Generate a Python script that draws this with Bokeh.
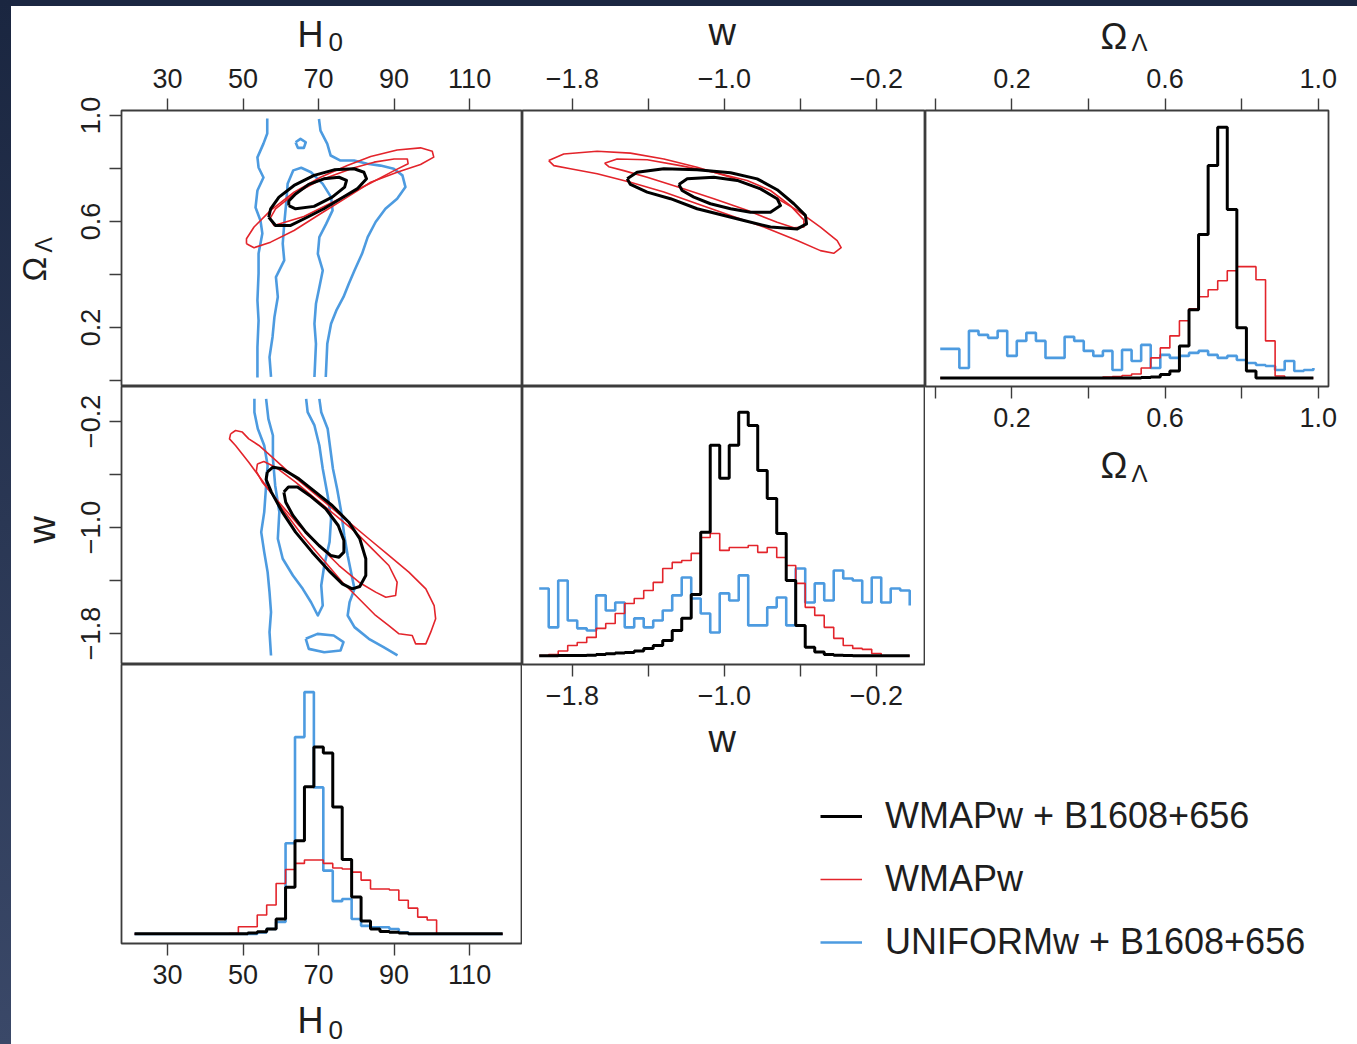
import numpy as np
from bokeh.plotting import figure
from bokeh.layouts import row, column
from bokeh.models import FixedTicker, LinearAxis, Range1d, Legend, LegendItem, Div
from bokeh.core.properties import value
from bokeh.embed import file_html
from bokeh.resources import INLINE

# ---------------------------------------------------------------- data
SERIES = ["WMAPw + B1608+656", "WMAPw", "UNIFORMw + B1608+656"]

H0_TICKS = [30, 50, 70, 90, 110]
W_TICKS = [-1.8, -1.0, -0.2]
W_MINOR = [-1.4, -0.6]
OL_TICKS = [0.2, 0.6, 1.0]
OL_MINOR = [0.0, 0.4, 0.8]

# histogram bin positions
H0_BINS = [21.25 + 2.5 * i for i in range(40)]
W_BINS = [-1.975 + 0.05 * i for i in range(40)]
OL_BINS = [0.0125 + 0.025 * i for i in range(40)]

# relative frequencies (arbitrary units, tallest curve of each panel = 100)
h0_black = [0.1] * 12 + [0.4, 1.0, 2.1, 6.2, 19.3, 38.6, 60.9, 77.3, 74.8, 52.5, 30.8, 15.3,
                         5.4, 2.1, 1.1, 0.7, 0.4] + [0.1] * 11
h0_red = [0] * 10 + [0.2, 3.0, 3.0, 7.9, 12.0, 20.9, 26.7, 29.2, 30.6, 30.6, 29.2, 27.3, 26.9,
                     25.6, 22.3, 18.6, 18.6, 18.2, 14.0, 10.7, 7.0, 5.8] + [0] * 8
h0_blue = [0] * 13 + [0.7, 2.1, 5.0, 37.5, 81.4, 100, 60.6, 26.2, 13.6, 14.5, 6.2, 3.4, 2.8,
                      2.8, 2.1, 0.7] + [0] * 11

w_black = [0.3, 0.3, 0.4, 0.4, 0.4, 0.5, 0.8, 1.1, 1.4, 1.6,
           2.2, 3.3, 4.5, 6.5, 10.6, 15.6, 25.4, 50.8, 86.4, 72.9,
           86.4, 100, 94.5, 76.1, 64.7, 50.3, 31.1, 12.7, 3.8, 1.8,
           0.8, 0.5, 0.4, 0.3, 0.3, 0.3, 0.3, 0.3, 0.3, 0.3]
w_red = [0.4, 0.8, 2.2, 4.5, 5.7, 7.8, 11.5, 13.5, 17.6, 21.7,
         23.7, 27.0, 30.3, 36.0, 38.5, 39.3, 42.2, 48.7, 50.3, 43.4,
         44.6, 44.6, 45.4, 42.6, 44.6, 40.5, 37.2, 29.9, 20.1, 16.8,
         11.9, 7.4, 4.5, 3.3, 2.9, 1.2, 0.3, 0.3, 0.3, 0.3]
w_blue = [27.8, 11.9, 31.1, 14.7, 11.5, 10.6, 25.0, 18.8, 22.1, 11.9,
          15.6, 11.9, 14.7, 18.8, 25.0, 32.3, 23.7, 17.6, 9.8, 25.8,
          22.9, 33.2, 12.7, 12.7, 20.1, 24.1, 12.7, 36.0, 22.1, 29.9,
          22.9, 35.2, 31.9, 31.1, 22.1, 32.3, 22.1, 27.8, 27.0, 20.9]

ol_black = [0] * 21 + [0.2, 0.4, 1.4, 2.8, 12.8, 27.2, 57.2, 84.8, 100, 67.2, 20, 2.8] + [0] * 7
ol_red = [0] * 17 + [0.4, 0.6, 1.0, 1.6, 4.0, 8.0, 12.0, 16.8, 22.8, 27.6, 32.4, 35.2, 38.8,
                     42.8, 44.4, 44.4, 39.2, 14.8, 0.8] + [0] * 4
ol_blue = [11.6, 11.6, 4.0, 18.8, 17.2, 16.0, 18.8, 8.8, 14.8, 18.0,
           14.8, 8.0, 8.0, 16.4, 14.8, 10.8, 8.8, 10.8, 3.2, 11.2,
           6.8, 13.2, 4.0, 9.2, 8.0, 8.8, 10.0, 10.8, 9.2, 8.0,
           8.8, 7.2, 6.0, 5.2, 4.8, 3.2, 6.8, 2.8, 3.2, 4.0]

# ---- contours: H0 (x) vs Omega_Lambda (y)
hl_black_out_h = [56.8, 58.6, 62.6, 67.0, 71.4, 75.8, 80.2, 82.7, 82.0, 79.4, 74.1, 68.8, 63.5, 59.5, 57.3, 56.8]
hl_black_out_o = [0.616, 0.585, 0.585, 0.616, 0.648, 0.686, 0.723, 0.761, 0.786, 0.799, 0.795, 0.774, 0.736, 0.692, 0.648, 0.616]
hl_black_in_h = [62.1, 63.9, 68.8, 73.6, 76.9, 77.4, 75.4, 71.4, 67.4, 63.9, 62.1, 62.1]
hl_black_in_o = [0.660, 0.648, 0.657, 0.692, 0.730, 0.755, 0.767, 0.761, 0.740, 0.704, 0.677, 0.660]
hl_red_out_h = [50.9, 52.9, 57.3, 63.5, 70.5, 77.6, 83.8, 90.8, 97.0, 100.5, 100.1, 97.0, 90.8, 83.8, 77.6, 70.5, 63.5, 57.3, 52.9, 50.9, 50.9]
hl_red_out_o = [0.516, 0.501, 0.522, 0.566, 0.629, 0.692, 0.748, 0.786, 0.815, 0.843, 0.865, 0.878, 0.870, 0.845, 0.811, 0.767, 0.711, 0.642, 0.579, 0.535, 0.516]
hl_red_in_h = [57.1, 58.2, 66.1, 75.0, 83.8, 90.0, 93.7, 93.5, 90.0, 84.7, 79.4, 70.5, 63.5, 58.6, 57.1]
hl_red_in_o = [0.610, 0.585, 0.619, 0.682, 0.745, 0.792, 0.818, 0.836, 0.836, 0.824, 0.803, 0.757, 0.704, 0.648, 0.610]
hl_blue_a_h = [56.4, 56.4, 55.4, 53.8, 54.1, 55.4, 53.8, 53.3, 54.6, 55.1, 54.1, 54.1, 53.8, 54.1, 53.8, 53.8]
hl_blue_a_o = [0.989, 0.932, 0.894, 0.842, 0.804, 0.766, 0.717, 0.653, 0.604, 0.555, 0.479, 0.404, 0.302, 0.226, 0.125, 0.011]
hl_blue_b_h = [57.4, 57.0, 57.8, 58.3, 59.2, 58.7, 60.9, 60.5, 60.9, 61.4, 61.8, 63.3, 65.4, 68.0, 71.1, 73.3, 73.7, 72.0, 70.2, 69.8, 71.1, 70.2, 69.3, 68.9, 69.3, 68.9]
hl_blue_b_o = [0.013, 0.088, 0.164, 0.239, 0.315, 0.390, 0.453, 0.516, 0.591, 0.667, 0.742, 0.793, 0.803, 0.786, 0.742, 0.692, 0.642, 0.591, 0.541, 0.478, 0.415, 0.352, 0.289, 0.214, 0.138, 0.013]
hl_blue_c_h = [70.1, 70.5, 72.3, 73.2, 75.8, 79.4, 82.9, 86.4, 89.9, 92.2, 93.0, 90.8, 87.7, 85.1, 83.0, 81.5, 79.5, 78.0, 76.6, 74.7, 73.3, 72.3, 71.9]
hl_blue_c_o = [0.987, 0.943, 0.893, 0.849, 0.830, 0.830, 0.818, 0.811, 0.799, 0.774, 0.730, 0.686, 0.648, 0.598, 0.541, 0.478, 0.415, 0.365, 0.315, 0.264, 0.214, 0.138, 0.013]
hl_blue_d_h = [63.9, 65.2, 66.6, 66.1, 64.5, 63.9]
hl_blue_d_o = [0.899, 0.912, 0.899, 0.878, 0.878, 0.899]

# ---- contours: w (x) vs Omega_Lambda (y)
wl_red_out_w = [-1.925, -1.846, -1.670, -1.495, -1.319, -1.144, -0.968, -0.793, -0.617, -0.495, -0.407, -0.386, -0.425, -0.495, -0.617, -0.793, -0.968, -1.144, -1.319, -1.495, -1.670, -1.811, -1.898, -1.925]
wl_red_out_o = [0.830, 0.855, 0.865, 0.858, 0.836, 0.805, 0.767, 0.717, 0.642, 0.579, 0.528, 0.501, 0.480, 0.490, 0.528, 0.579, 0.623, 0.667, 0.711, 0.748, 0.780, 0.799, 0.811, 0.830]
wl_red_in_w = [-1.631, -1.565, -1.407, -1.232, -1.056, -0.881, -0.758, -0.653, -0.582, -0.582, -0.635, -0.723, -0.881, -1.056, -1.232, -1.407, -1.530, -1.609, -1.631]
wl_red_in_o = [0.820, 0.836, 0.833, 0.811, 0.786, 0.755, 0.717, 0.660, 0.606, 0.579, 0.576, 0.597, 0.642, 0.686, 0.727, 0.767, 0.792, 0.807, 0.820]
wl_black_out_w = [-1.512, -1.460, -1.319, -1.144, -0.968, -0.828, -0.723, -0.635, -0.574, -0.568, -0.617, -0.758, -0.898, -1.039, -1.144, -1.284, -1.407, -1.495, -1.512]
wl_black_out_o = [0.761, 0.786, 0.799, 0.795, 0.784, 0.761, 0.720, 0.667, 0.623, 0.591, 0.572, 0.579, 0.604, 0.629, 0.648, 0.686, 0.711, 0.740, 0.761]
wl_black_in_w = [-1.240, -1.196, -1.056, -0.933, -0.810, -0.723, -0.705, -0.758, -0.863, -0.968, -1.074, -1.161, -1.223, -1.240]
wl_black_in_o = [0.740, 0.761, 0.767, 0.755, 0.723, 0.686, 0.660, 0.635, 0.635, 0.648, 0.667, 0.692, 0.717, 0.740]

# ---- contours: H0 (x) vs w (y)
hw_red_out_h = [46.7, 48.0, 49.8, 51.5, 54.2, 57.7, 62.1, 67.4, 72.7, 78.0, 83.3, 88.6, 93.9, 98.4, 100.6, 101.0, 99.7, 98.4, 95.7, 94.8, 91.3, 88.6, 85.1, 80.7, 76.3, 71.0, 65.7, 60.4, 56.0, 51.5, 48.0, 46.4, 46.7]
hw_red_out_w = [-0.293, -0.268, -0.280, -0.331, -0.381, -0.469, -0.582, -0.708, -0.834, -0.960, -1.085, -1.211, -1.337, -1.463, -1.589, -1.689, -1.790, -1.878, -1.878, -1.815, -1.802, -1.740, -1.664, -1.538, -1.413, -1.236, -1.060, -0.859, -0.683, -0.507, -0.381, -0.331, -0.293]
hw_red_in_h = [53.8, 55.5, 58.6, 63.9, 69.2, 74.5, 79.8, 84.2, 88.6, 90.8, 90.4, 87.8, 85.1, 80.7, 75.4, 70.1, 64.8, 59.5, 55.1, 53.5, 53.8]
hw_red_in_w = [-0.520, -0.502, -0.545, -0.658, -0.784, -0.909, -1.035, -1.161, -1.287, -1.413, -1.513, -1.526, -1.488, -1.413, -1.287, -1.136, -0.985, -0.809, -0.658, -0.577, -0.520]
hw_black_out_h = [56.4, 57.9, 60.4, 64.8, 69.2, 73.6, 78.0, 80.9, 82.5, 82.5, 80.9, 78.9, 76.3, 72.7, 68.3, 63.9, 60.4, 57.5, 56.1, 56.4]
hw_black_out_w = [-0.582, -0.545, -0.557, -0.633, -0.733, -0.834, -0.960, -1.085, -1.236, -1.362, -1.445, -1.463, -1.425, -1.325, -1.186, -1.035, -0.884, -0.733, -0.638, -0.582]
hw_black_in_h = [60.8, 62.0, 64.4, 67.6, 71.9, 75.2, 76.7, 76.7, 75.4, 73.2, 70.1, 66.6, 63.2, 61.3, 60.8]
hw_black_in_w = [-0.733, -0.695, -0.695, -0.758, -0.859, -0.985, -1.098, -1.186, -1.224, -1.211, -1.136, -1.035, -0.909, -0.809, -0.733]
hw_blue_a_h = [53.0, 53.0, 53.9, 55.6, 56.5, 56.1, 55.6, 54.8, 55.6, 56.5, 57.0, 57.4, 57.0, 57.4]
hw_blue_a_w = [-0.029, -0.130, -0.255, -0.381, -0.532, -0.683, -0.884, -1.035, -1.186, -1.337, -1.488, -1.639, -1.790, -1.966]
hw_blue_b_h = [56.1, 56.7, 57.9, 57.9, 58.5, 59.6, 59.2, 60.5, 63.2, 65.8, 68.0, 69.8, 71.1, 70.7, 71.5, 72.9, 73.3, 72.4, 71.1, 70.2, 68.9, 67.1, 66.7]
hw_blue_b_w = [-0.029, -0.180, -0.306, -0.482, -0.683, -0.884, -1.085, -1.236, -1.362, -1.463, -1.564, -1.664, -1.589, -1.438, -1.287, -1.110, -0.934, -0.758, -0.557, -0.381, -0.230, -0.130, -0.029]
hw_blue_c_h = [70.2, 70.7, 72.4, 73.1, 73.8, 74.9, 76.0, 76.8, 77.7, 78.6, 79.5, 78.2, 77.7, 79.5, 83.3, 87.2, 90.9]
hw_blue_c_w = [-0.029, -0.130, -0.255, -0.406, -0.557, -0.708, -0.884, -1.060, -1.211, -1.337, -1.463, -1.564, -1.664, -1.752, -1.840, -1.903, -1.966]
hw_blue_d_h = [66.6, 69.7, 74.0, 76.6, 75.8, 71.5, 67.4, 66.6]
hw_blue_d_w = [-1.840, -1.803, -1.815, -1.865, -1.928, -1.941, -1.916, -1.840]

# ---------------------------------------------------------------- style
FONT = "Liberation Sans"
TEXT = "#1e1e1e"
FRAME = "#3c3c3c"
BLACK = "#000000"
RED = "#e3242b"
BLUE = "#4d9be0"
LW = {BLACK: 3.0, RED: 1.6, BLUE: 2.6}

H0_RANGE = (17.8, 124.0)
W_XRANGE = (-2.063, 0.058)
W_YRANGE = (-2.034, 0.064)
OL_YRANGE = (-0.023, 1.019)
OL_XRANGE = (-0.026, 1.027)


def panel(w, h, xr, yr, bl=0, br=0, bt=0, bb=0, outline=True):
    p = figure(width=w, height=h, x_range=Range1d(*xr), y_range=Range1d(*yr),
               x_axis_type=None, y_axis_type=None, toolbar_location=None,
               output_backend="svg", min_border_left=bl, min_border_right=br,
               min_border_top=bt, min_border_bottom=bb, align="start")
    p.outline_line_color = FRAME if outline else None
    p.outline_line_width = 1.8
    p.background_fill_color = "white"
    p.border_fill_color = "white"
    return p


def text_panel(w, h):
    # a blank strip whose data units are pixels, used to hold the axis titles
    return panel(w, h, (0, w), (0, h), outline=False)


def add_axis(p, side, major, minor, labels, vertical=False, standoff=9):
    ax = LinearAxis(ticker=FixedTicker(ticks=major, minor_ticks=minor),
                    major_label_overrides=labels)
    ax.axis_line_color = None
    for k in ("major", "minor"):
        setattr(ax, f"{k}_tick_line_color", FRAME)
        setattr(ax, f"{k}_tick_line_width", 1.4)
        setattr(ax, f"{k}_tick_out", 12)
        setattr(ax, f"{k}_tick_in", 0)
    ax.major_label_text_font = FONT
    ax.major_label_text_font_size = "27px"
    ax.major_label_text_color = TEXT
    ax.major_label_standoff = standoff
    if vertical:
        ax.major_label_orientation = "vertical"
    p.add_layout(ax, side)


def title(p, text, x, y, size, angle=0.0):
    p.text(x=[x], y=[y], text=[text], angle=angle, text_font=value(FONT),
           text_font_size=value(f"{size}px"), text_color=TEXT,
           text_align="left", text_baseline="middle")


def hist(p, bins, vals, color):
    p.step(bins, vals, mode="after", line_color=color, line_width=LW[color])


def contour(p, xs, ys, color):
    p.line(xs, ys, line_color=color, line_width=LW[color], line_join="round")


H0_LAB = {v: str(v) for v in H0_TICKS}
W_LAB = {v: ("\u2212%.1f" % abs(v)) for v in W_TICKS}
OL_LAB = {v: "%.1f" % v for v in OL_TICKS}

TOP = 54      # height of the band holding the top axes
BOT = 52      # height of the band holding the bottom axes

# ---- row 0 ----------------------------------------------------------
f00 = panel(454, TOP + 276, H0_RANGE, OL_YRANGE, bl=53, bt=TOP)
add_axis(f00, "above", H0_TICKS, [], H0_LAB, standoff=11)
add_axis(f00, "left", OL_TICKS, OL_MINOR, OL_LAB, vertical=True)
for xs, ys in [(hl_blue_a_h, hl_blue_a_o), (hl_blue_b_h, hl_blue_b_o),
               (hl_blue_c_h, hl_blue_c_o), (hl_blue_d_h, hl_blue_d_o)]:
    contour(f00, xs, ys, BLUE)
contour(f00, hl_red_out_h, hl_red_out_o, RED)
contour(f00, hl_red_in_h, hl_red_in_o, RED)
contour(f00, hl_black_out_h, hl_black_out_o, BLACK)
contour(f00, hl_black_in_h, hl_black_in_o, BLACK)

f01 = panel(403, TOP + 276, W_XRANGE, OL_YRANGE, bt=TOP)
add_axis(f01, "above", W_TICKS, W_MINOR, W_LAB, standoff=11)
contour(f01, wl_red_out_w, wl_red_out_o, RED)
contour(f01, wl_red_in_w, wl_red_in_o, RED)
contour(f01, wl_black_out_w, wl_black_out_o, BLACK)
contour(f01, wl_black_in_w, wl_black_in_o, BLACK)

f02 = panel(432, TOP + 276 + BOT, OL_XRANGE, (-3.4, 106.7), br=29, bt=TOP, bb=BOT)
add_axis(f02, "above", OL_TICKS, OL_MINOR, OL_LAB, standoff=11)
add_axis(f02, "below", OL_TICKS, OL_MINOR, OL_LAB)
hist(f02, OL_BINS, ol_blue, BLUE)
hist(f02, OL_BINS, ol_red, RED)
hist(f02, OL_BINS, ol_black, BLACK)

# ---- row 1 ----------------------------------------------------------
f10 = panel(454, 278, H0_RANGE, W_YRANGE, bl=53)
add_axis(f10, "left", W_TICKS, W_MINOR, W_LAB, vertical=True)
for xs, ys in [(hw_blue_a_h, hw_blue_a_w), (hw_blue_b_h, hw_blue_b_w),
               (hw_blue_c_h, hw_blue_c_w), (hw_blue_d_h, hw_blue_d_w)]:
    contour(f10, xs, ys, BLUE)
contour(f10, hw_red_out_h, hw_red_out_w, RED)
contour(f10, hw_red_in_h, hw_red_in_w, RED)
contour(f10, hw_black_out_h, hw_black_out_w, BLACK)
contour(f10, hw_black_in_h, hw_black_in_w, BLACK)

f11 = panel(403, 278 + BOT, W_XRANGE, (-3.3, 110.5), bb=BOT)
add_axis(f11, "below", W_TICKS, W_MINOR, W_LAB)
hist(f11, W_BINS, w_blue, BLUE)
hist(f11, W_BINS, w_red, RED)
hist(f11, W_BINS, w_black, BLACK)

# ---- row 2 ----------------------------------------------------------
f20 = panel(511, 279 + BOT, H0_RANGE, (-3.9, 111.4), bl=110, bb=BOT)
add_axis(f20, "below", H0_TICKS, [], H0_LAB)
hist(f20, H0_BINS, h0_blue, BLUE)
hist(f20, H0_BINS, h0_red, RED)
hist(f20, H0_BINS, h0_black, BLACK)

# ---- axis titles (strips whose data units are pixels) ------------------
t_top = text_panel(1346, 50)
title(t_top, "H", 286, 22.5, 36)
title(t_top, "0", 317, 15, 26)
title(t_top, "w", 697, 24.2, 38)
title(t_top, "\u03a9", 1089, 20.2, 36)
title(t_top, "\u039b", 1120, 13.8, 24)

t_left = text_panel(57, TOP + 276 + 278)
title(t_left, "\u03a9", 22.9, 383, 33, angle=np.pi / 2)
title(t_left, "\u039b", 32, 412, 23, angle=np.pi / 2)
title(t_left, "w", 30.8, 121, 38, angle=np.pi / 2)

t_bottom = text_panel(1346, 49)
title(t_bottom, "H", 286, 24.5, 36)
title(t_bottom, "0", 317, 15, 26)

t_bot_b = text_panel(403, 44)
title(t_bot_b, "w", 186, 21.7, 38)

# strip under the Omega_Lambda histogram, sharing its horizontal scale
t_bot_c = panel(432, 322, OL_XRANGE, (0, 322), br=29, outline=False)
title(t_bot_c, "\u03a9", 0.431, 295.5, 36)
title(t_bot_c, "\u039b", 0.512, 287.3, 24)

# ---- legend ---------------------------------------------------------
fl = panel(835, 235, (0, 1), (0, 1), bl=298, bt=35, outline=False)
items = []
for name, col in zip(SERIES, [BLACK, RED, BLUE]):
    r = fl.line([5, 6], [5, 6], line_color=col, line_width=LW[col])
    items.append(LegendItem(label=name, renderers=[r]))
leg = Legend(items=items, location="top_left", margin=0, padding=0, spacing=21,
             glyph_width=42, glyph_height=40, label_height=40, label_standoff=23,
             border_line_color=None, background_fill_alpha=0,
             label_text_font=FONT, label_text_font_size="36px", label_text_color=TEXT)
fl.add_layout(leg)

# ---- layout ---------------------------------------------------------
colA = column(row(t_left, column(f00, f10, spacing=0), spacing=0), f20, spacing=0)
colB = column(f01, f11, t_bot_b, spacing=0)
colC = column(f02, t_bot_c, spacing=0)
colBC = column(row(colB, colC, spacing=0), fl, spacing=0)
content = column(t_top, row(colA, colBC, spacing=0), t_bottom, spacing=0)
left_strip = Div(text="", width=11, height=1044, margin=0,
                 styles={"background": "linear-gradient(#1a2640, #3a4868)"})
top_strip = Div(text="", width=1346, height=6, margin=0,
                styles={"background": "#1b2742"})
root = row(left_strip, column(top_strip, content, spacing=0), spacing=0)

open("out.html", "w").write(file_html(root, INLINE))
